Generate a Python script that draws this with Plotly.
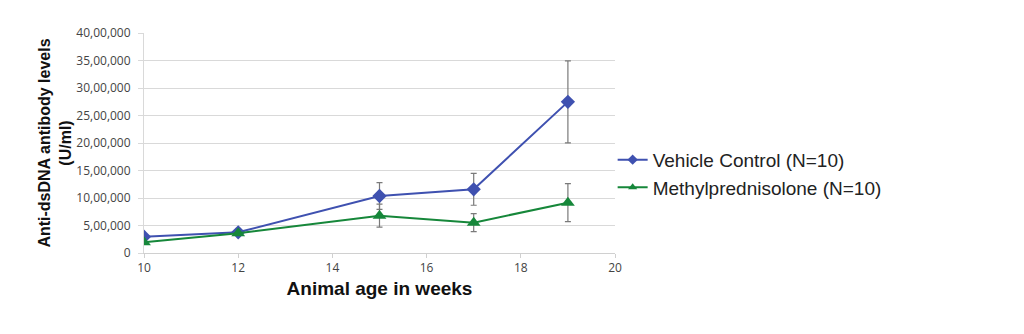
import plotly.graph_objects as go

# Animal age (weeks) at each sampling point
weeks = [10, 12, 15, 17, 19]

# Anti-dsDNA antibody levels (U/ml), mean and error
vehicle_mean = [296000, 376000, 1036000, 1158000, 2748000]
vehicle_err = [0, 0, 242000, 290000, 745000]
mp_mean = [194000, 358000, 679000, 552000, 915000]
mp_err = [0, 0, 210000, 165000, 345000]

series_names = ["Vehicle Control (N=10)", "Methylprednisolone (N=10)"]

y_tickvals = [0, 500000, 1000000, 1500000, 2000000, 2500000, 3000000, 3500000, 4000000]
y_ticktext = ["0", "5,00,000", "10,00,000", "15,00,000", "20,00,000",
              "25,00,000", "30,00,000", "35,00,000", "40,00,000"]
x_tickvals = [10, 12, 14, 16, 18, 20]

BLUE = "#3f51b0"
GREEN = "#16873a"
ERR = "#7a7a7a"

fig = go.Figure()
series = [
    (vehicle_mean, vehicle_err, BLUE, "diamond", 11, 8),
    (mp_mean, mp_err, GREEN, "triangle-up", 12, 8),
]
for name, (mean, err, color, symbol, size, legend_size) in zip(series_names, series):
    fig.add_trace(go.Scatter(
        x=weeks, y=mean, mode="lines+markers", name=name,
        showlegend=False,
        line=dict(color=color, width=2),
        marker=dict(symbol=symbol, size=size, color=color),
        error_y=dict(type="data", array=err, visible=True,
                     color=ERR, thickness=1.2, width=3),
    ))
    # legend entry with a smaller marker
    fig.add_trace(go.Scatter(
        x=[None], y=[None], mode="lines+markers", name=name,
        line=dict(color=color, width=2),
        marker=dict(symbol=symbol, size=legend_size, color=color),
    ))

fig.update_layout(
    width=1024, height=334,
    margin=dict(l=144, r=409, t=33, b=81),
    paper_bgcolor="white", plot_bgcolor="white",
    font=dict(family="Liberation Sans, Arial, sans-serif", color="#222"),
    legend=dict(x=0.995, y=0.36, xanchor="left", yanchor="middle",
                font=dict(size=19, color="#222"), tracegroupgap=0,
                itemwidth=30,
                bgcolor="rgba(0,0,0,0)"),
    xaxis=dict(
        range=[10, 20], tickvals=x_tickvals, showgrid=False,
        showline=True, linecolor="#d0d0d0", linewidth=1,
        ticks="outside", tickcolor="#d0d0d0", ticklen=4,
        tickfont=dict(size=12, family="Open Sans, sans-serif", color="#444"),
        title=dict(text="<b>Animal age in weeks</b>",
                   font=dict(size=19, color="#111"), standoff=6),
        zeroline=False,
    ),
    yaxis=dict(
        range=[0, 4000000], tickvals=y_tickvals, ticktext=y_ticktext,
        showgrid=True, gridcolor="#d9d9d9", gridwidth=1,
        showline=True, linecolor="#d9d9d9", linewidth=1, zeroline=False,
        ticks="outside", tickcolor="#d9d9d9", ticklen=5,
        ticklabelstandoff=5,
        tickfont=dict(size=12, family="Open Sans, sans-serif", color="#444"),
        title=dict(text="<b>Anti-dsDNA antibody levels<br>(U/ml)</b>",
                   font=dict(size=16, color="#111"), standoff=0),
    ),
)

fig.write_html("out.html")
